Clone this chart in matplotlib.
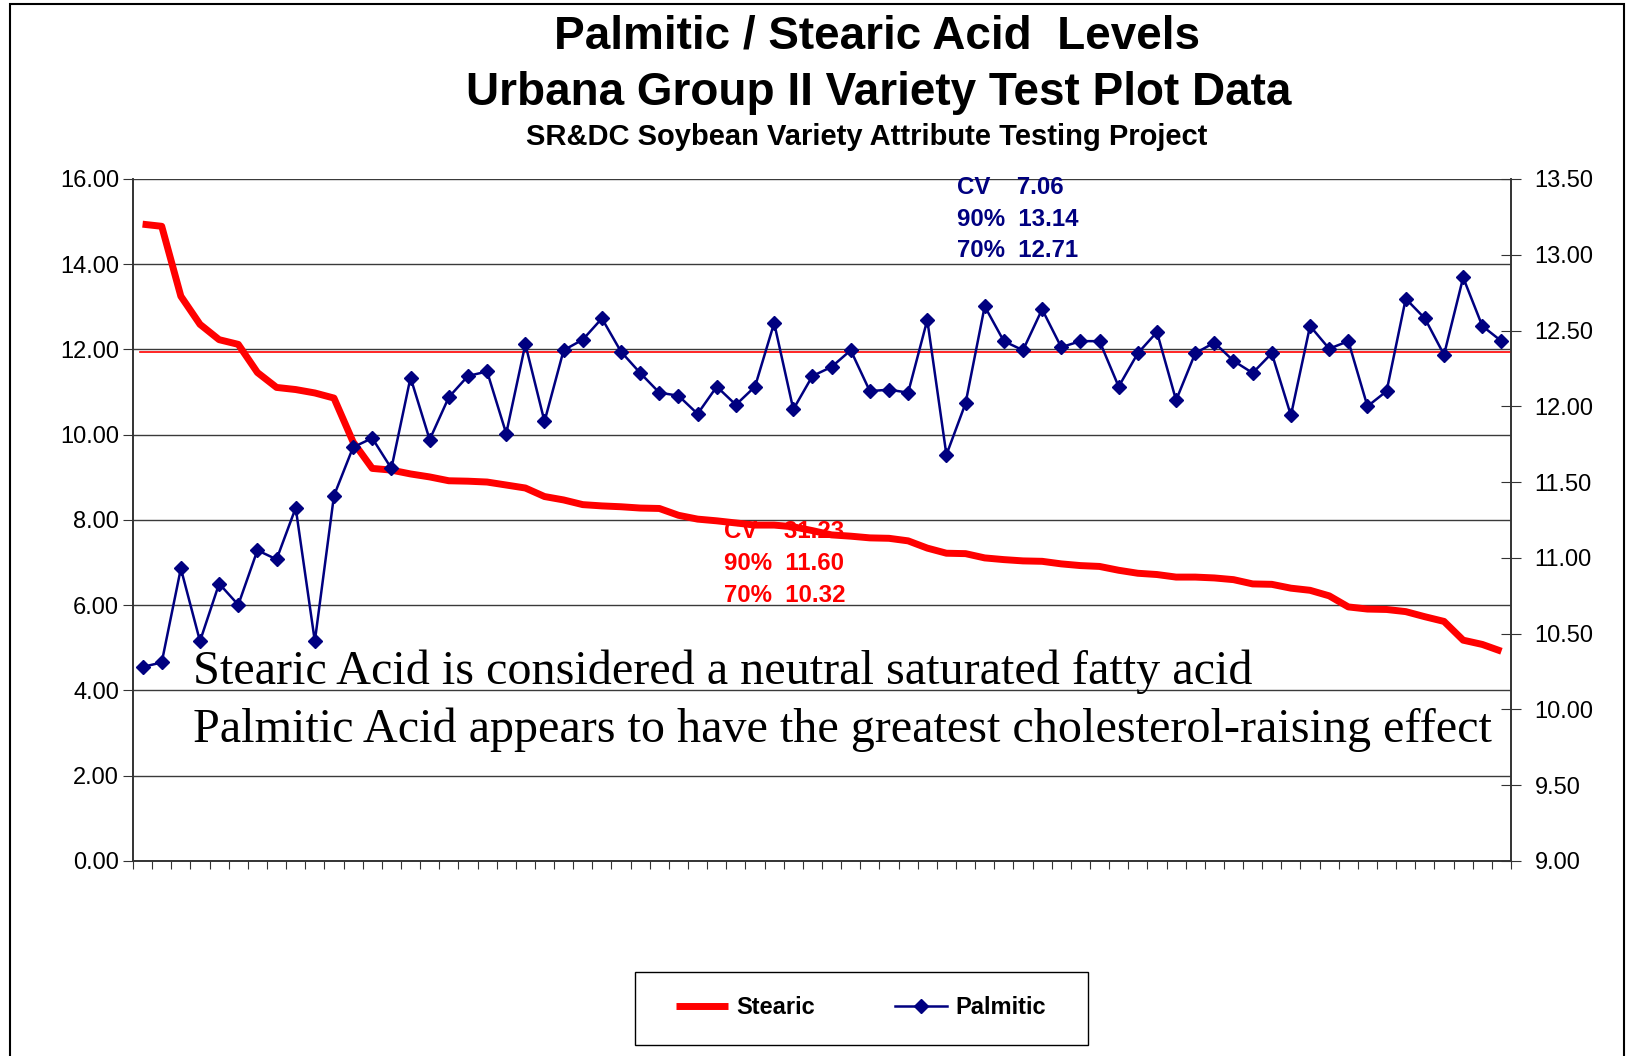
import numpy as np
import matplotlib
matplotlib.use("Agg")
import matplotlib.pyplot as plt
from matplotlib.patches import Rectangle

# Stearic acid levels (left axis), sorted high to low
stearic = [14.94, 14.89, 13.25, 12.59, 12.23, 12.12, 11.46, 11.11, 11.06, 10.98,
           10.86, 9.83, 9.21, 9.17, 9.08, 9.01, 8.92, 8.91, 8.89, 8.82,
           8.75, 8.55, 8.47, 8.36, 8.33, 8.31, 8.28, 8.27, 8.11, 8.02,
           7.98, 7.93, 7.88, 7.88, 7.84, 7.75, 7.65, 7.62, 7.58, 7.57,
           7.51, 7.34, 7.22, 7.21, 7.11, 7.07, 7.04, 7.03, 6.97, 6.93,
           6.91, 6.82, 6.75, 6.72, 6.66, 6.66, 6.64, 6.60, 6.50, 6.49,
           6.40, 6.35, 6.22, 5.96, 5.91, 5.90, 5.85, 5.73, 5.62, 5.18,
           5.08, 4.92]

# Palmitic acid levels (right axis), same varieties
palmitic = [10.28, 10.31, 10.93, 10.45, 10.83, 10.69, 11.05, 10.99, 11.33, 10.45,
            11.41, 11.73, 11.79, 11.59, 12.19, 11.78, 12.06, 12.20, 12.23, 11.82,
            12.41, 11.90, 12.37, 12.44, 12.58, 12.36, 12.22, 12.09, 12.07, 11.95,
            12.13, 12.01, 12.13, 12.55, 11.98, 12.20, 12.26, 12.37, 12.10, 12.11,
            12.09, 12.57, 11.68, 12.02, 12.66, 12.43, 12.37, 12.64, 12.39, 12.43,
            12.43, 12.13, 12.35, 12.49, 12.04, 12.35, 12.42, 12.30, 12.22, 12.35,
            11.94, 12.53, 12.38, 12.43, 12.00, 12.10, 12.71, 12.58, 12.34, 12.85,
            12.53, 12.43]

palmitic_ref = 12.36

left_ticks = [0, 2, 4, 6, 8, 10, 12, 14, 16]
right_ticks = [9.0, 9.5, 10.0, 10.5, 11.0, 11.5, 12.0, 12.5, 13.0, 13.5]

x = np.arange(len(stearic))

fig = plt.figure(figsize=(16.3, 10.56), dpi=100)
ax1 = fig.add_axes([0.0816, 0.1847, 0.8454, 0.6458])
ax2 = ax1.twinx()

# gridlines on the left scale
for v in left_ticks:
    ax1.axhline(v, color="#3a3a3a", lw=1.0, zorder=0)

ax1.plot(x, stearic, color="#ff0000", lw=5, solid_capstyle="butt", zorder=2, label="Stearic")
ax2.axhline(palmitic_ref, xmin=0.005, xmax=1, color="#ff0000", lw=1.2, zorder=1)
ax2.plot(x, palmitic, color="#000080", lw=1.8, marker="D", markersize=7.5,
         markeredgecolor="#000080", markerfacecolor="#000080", zorder=3, label="Palmitic")

ax1.set_xlim(-0.5, len(stearic) - 0.5)
ax1.set_ylim(0, 16)
ax2.set_ylim(9, 13.5)

ax1.set_xticks(np.arange(-0.5, len(stearic), 1))
ax1.set_xticklabels([])
ax1.tick_params(axis="x", direction="out", length=6, color="#333333")
ax1.set_yticks(left_ticks)
ax1.set_yticklabels([f"{v:.2f}" for v in left_ticks], fontsize=17, family="Liberation Sans")
ax1.tick_params(axis="y", direction="out", length=7, color="#333333", pad=3)
ax2.set_yticks(right_ticks)
ax2.set_yticklabels([f"{v:.2f}" for v in right_ticks], fontsize=17, family="Liberation Sans")
ax2.tick_params(axis="y", direction="inout", length=14, color="#333333", pad=10)

for ax in (ax1, ax2):
    ax.spines["top"].set_visible(False)
    for s in ("left", "right", "bottom"):
        ax.spines[s].set_color("#333333")
        ax.spines[s].set_linewidth(1.2)

# titles
fig.text(0.538, 0.965, "Palmitic / Stearic Acid  Levels", ha="center", va="center",
         fontsize=33, fontweight="bold", family="Liberation Sans")
fig.text(0.539, 0.912, "Urbana Group II Variety Test Plot Data", ha="center", va="center",
         fontsize=33, fontweight="bold", family="Liberation Sans")
fig.text(0.532, 0.870, "SR&DC Soybean Variety Attribute Testing Project", ha="center", va="center",
         fontsize=21, fontweight="bold", family="Liberation Sans")

# stats annotations
blue_stats = ["CV    7.06", "90%  13.14", "70%  12.71"]
red_stats = ["CV    31.23", "90%  11.60", "70%  10.32"]
for i, s in enumerate(blue_stats):
    fig.text(957 / 1630, 1 - (188 + 31 * i) / 1056, s, ha="left", va="center",
             fontsize=17.3, fontweight="bold", color="#000080", family="Liberation Sans")
for i, s in enumerate(red_stats):
    fig.text(724 / 1630, 1 - (531 + 32 * i) / 1056, s, ha="left", va="center",
             fontsize=17.3, fontweight="bold", color="#ff0000", family="Liberation Sans", zorder=1)

# notes
fig.text(193 / 1630, 1 - 672 / 1056, "Stearic Acid is considered a neutral saturated fatty acid",
         ha="left", va="center", fontsize=34.7, family="Liberation Serif")
fig.text(193 / 1630, 1 - 730 / 1056, "Palmitic Acid appears to have the greatest cholesterol-raising effect",
         ha="left", va="center", fontsize=34.7, family="Liberation Serif")

# legend (box drawn separately)
h1, l1 = ax1.get_legend_handles_labels()
h2, l2 = ax2.get_legend_handles_labels()
fig.legend(h1 + h2, l1 + l2, loc="center", bbox_to_anchor=(861 / 1630, 1 - 1008 / 1056),
           ncol=2, frameon=False, columnspacing=3.4, handlelength=2.2, handletextpad=0.35,
           prop={"family": "Liberation Sans", "weight": "bold", "size": 17})
fig.patches.append(Rectangle((635 / 1630, 1 - 1045 / 1056), 453 / 1630, 73 / 1056,
                             transform=fig.transFigure, fill=False, edgecolor="black", lw=1.0))

# outer frame
fig.patches.append(Rectangle((10 / 1630, -0.02), 1614 / 1630, 1.02 - 4 / 1056,
                             transform=fig.transFigure, fill=False, edgecolor="black", lw=1.5))

fig.savefig("out.png", dpi=100)
